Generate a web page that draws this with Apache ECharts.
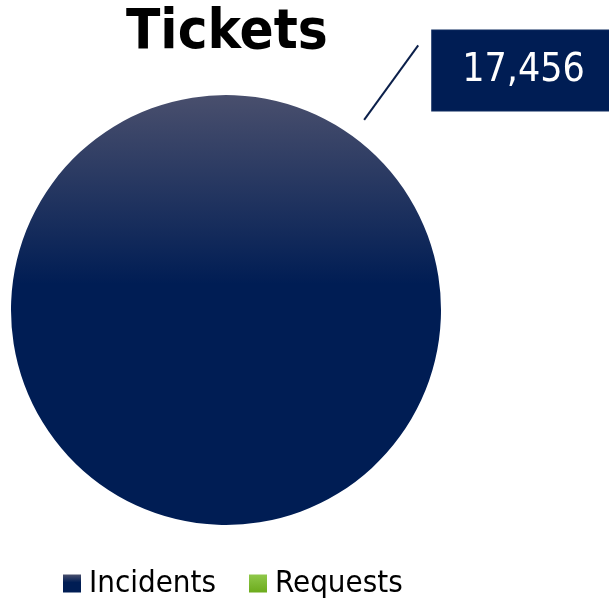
<!DOCTYPE html>
<html>
<head>
<meta charset="utf-8">
<script src="https://cdn.jsdelivr.net/npm/echarts@6/dist/echarts.min.js"></script>
<style>
  html, body { margin: 0; padding: 0; background: #fff; }
  #main { width: 609px; height: 600px; }
</style>
</head>
<body>
<div id="main"></div>
<script>
// 数据
var categories = ['Incidents', 'Requests'];
var ticketCounts = [17456, 0];

var FONT = '"DejaVu Sans Condensed", "DejaVu Sans", sans-serif';

var navyGrad = new echarts.graphic.LinearGradient(0, 0, 0, 1, [
  { offset: 0, color: '#494f6d' },
  { offset: 0.44, color: '#001d54' },
  { offset: 1, color: '#001d54' }
]);
var greenGrad = new echarts.graphic.LinearGradient(0, 0, 0, 1, [
  { offset: 0, color: '#8fc84a' },
  { offset: 1, color: '#6cab1c' }
]);
var colors = [navyGrad, greenGrad];

var LINE_GAP = 20; // 引导线和饼图之间的空隙

var chart = echarts.init(document.getElementById('main'));

chart.setOption({
  backgroundColor: '#fff',
  animation: false,
  title: {
    text: 'Tickets',
    left: 121,
    top: 0,
    textStyle: {
      fontFamily: FONT,
      fontSize: 56,
      fontWeight: 'bold',
      color: '#000'
    }
  },
  legend: {
    data: categories,
    left: 58,
    top: 563,
    icon: 'rect',
    itemWidth: 18,
    itemHeight: 18,
    itemGap: 33,
    textStyle: {
      fontFamily: FONT,
      fontSize: 31,
      color: '#000',
      padding: [0, 0, 0, 3]
    }
  },
  series: [{
    type: 'pie',
    center: [226, 310],
    radius: 215,
    startAngle: 234, // 让标签落在右上方
    clockwise: true,
    avoidLabelOverlap: false,
    itemStyle: { borderWidth: 0 },
    label: {
      show: true,
      position: 'outside',
      formatter: function (p) { return p.value.toLocaleString('en-US'); },
      fontFamily: FONT,
      fontSize: 39,
      lineHeight: 44,
      color: '#fff',
      backgroundColor: '#001d54',
      borderColor: '#0d2a5e',
      borderWidth: 1,
      padding: [18, 27, 18, 30],
      distanceToLabelLine: 14
    },
    labelLine: {
      show: true,
      length: 92 + LINE_GAP,
      length2: 0,
      lineStyle: { color: '#0b1f4a', width: 2 }
    },
    labelLayout: function (params) {
      var pts = params.labelLinePoints;
      if (!pts) return { dy: 25 };
      var a = pts[0], b = pts[pts.length - 1];
      var dx = b[0] - a[0], dy = b[1] - a[1];
      var len = Math.sqrt(dx * dx + dy * dy) || 1;
      var start = [a[0] + dx / len * LINE_GAP, a[1] + dy / len * LINE_GAP];
      return { dy: 25, labelLinePoints: [start, b] };
    },
    emphasis: { disabled: true },
    data: categories.map(function (name, i) {
      var item = { name: name, value: ticketCounts[i], itemStyle: { color: colors[i] } };
      if (!ticketCounts[i]) {
        item.label = { show: false };
        item.labelLine = { show: false };
      }
      return item;
    })
  }]
});
</script>
</body>
</html>
